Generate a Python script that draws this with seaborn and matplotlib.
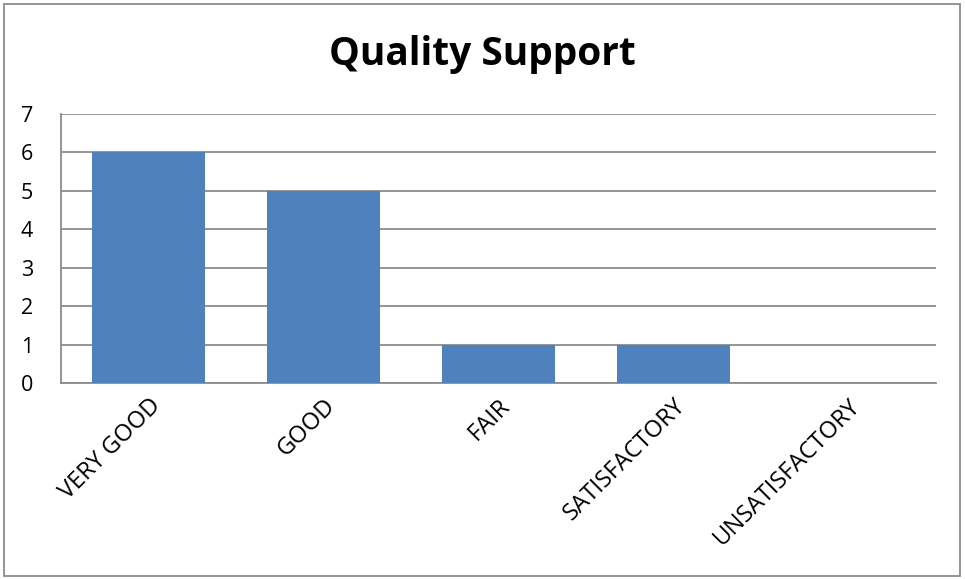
import matplotlib
matplotlib.use("Agg")
import matplotlib.pyplot as plt
import seaborn as sns
import pandas as pd
from matplotlib.patches import Rectangle

# %%
# Data
categories = ['VERY GOOD', 'GOOD', 'FAIR', 'SATISFACTORY', 'UNSATISFACTORY']
counts = [6, 5, 1, 1, 0]
df = pd.DataFrame({'rating': categories, 'count': counts})

# %%
sns.set_style('white')
plt.rcParams['font.family'] = ['Open Sans', 'DejaVu Sans']
plt.rcParams['text.color'] = 'black'
plt.rcParams['xtick.color'] = 'black'
plt.rcParams['ytick.color'] = 'black'

fig = plt.figure(figsize=(9.65, 5.79), dpi=100)
ax = fig.add_axes([61 / 965, 1 - 383 / 579, (936 - 61) / 965, (383 - 114) / 579])

sns.barplot(data=df, x='rating', y='count', color='#4F81BD', saturation=1,
            width=0.65, linewidth=0, ax=ax, zorder=3)

ax.set_ylim(0, 7)
ax.set_yticks(range(0, 8))
ax.set_xlim(-0.5, len(categories) - 0.5)
ax.yaxis.grid(True, color='#8c8c8c', linewidth=1.3, zorder=0)
ax.set_axisbelow(True)
for side in ['top', 'right']:
    ax.spines[side].set_visible(False)
ax.spines['left'].set_color('#8c8c8c')
ax.spines['bottom'].set_color('#8c8c8c')
ax.spines['left'].set_linewidth(1.3)
ax.spines['bottom'].set_linewidth(1.3)

ax.set_xlabel('')
ax.set_ylabel('')
ax.tick_params(axis='y', labelsize=15.5, length=0, pad=20)
ax.tick_params(axis='x', labelsize=17, length=0, pad=8)
plt.setp(ax.get_xticklabels(), rotation=45, ha='right', rotation_mode='anchor')

fig.text(0.5, 1 - 55 / 579, 'Quality Support', ha='center', va='center',
         fontsize=28, fontweight='bold', color='black')

# outer chart border
fig.patches.append(Rectangle((4 / 965, 3 / 579), 956 / 965, 572 / 579,
                             transform=fig.transFigure, fill=False,
                             edgecolor='#8c8c8c', linewidth=1.3))

fig.savefig('out.png', dpi=100)
